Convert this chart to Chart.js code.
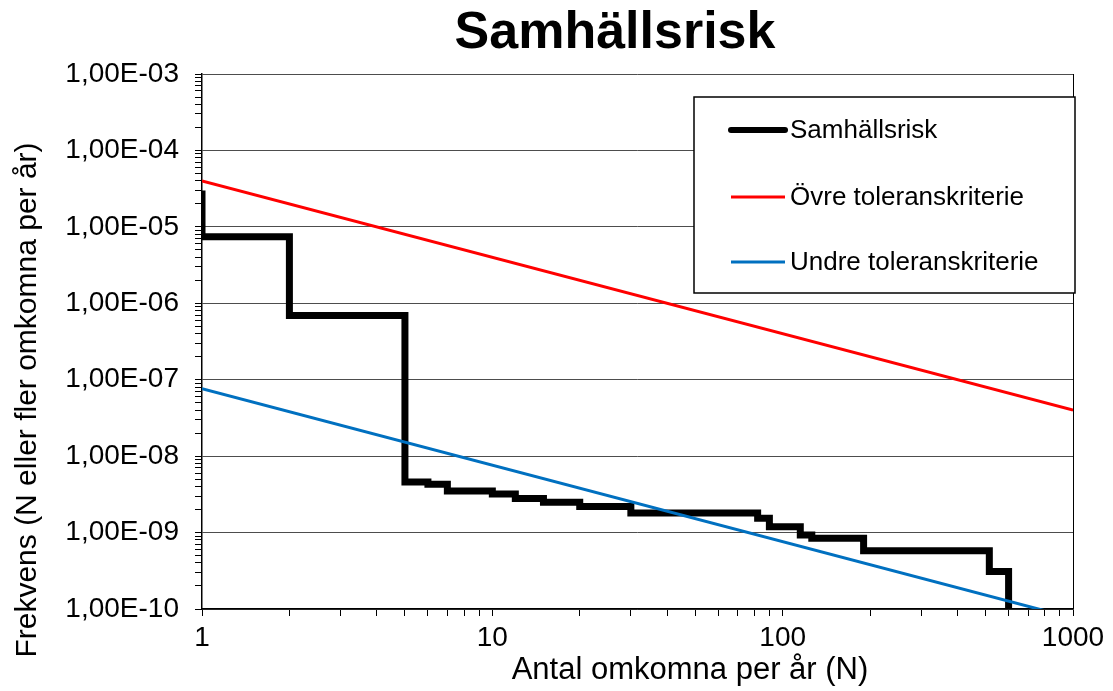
<!DOCTYPE html>
<html>
<head>
<meta charset="utf-8">
<style>
    body { margin: 0; background: #fff; }
    #wrap { width: 1113px; height: 691px; }
</style>
</head>
<body>
<div id="wrap"><canvas id="riskChart" width="1113" height="691"></canvas></div>

<script src="https://cdn.jsdelivr.net/npm/chart.js"></script>
<script>
    // Samhällsrisk (F/N-kurva)
    const riskN = [1, 1, 2, 5, 6, 7, 10, 12, 15, 20, 30, 82, 90, 115, 126, 190, 515, 600];
    const riskF = [3.0e-5, 7.4e-6, 6.9e-7, 4.6e-9, 4.3e-9, 3.5e-9, 3.2e-9, 2.8e-9, 2.5e-9, 2.2e-9,
                   1.8e-9, 1.54e-9, 1.19e-9, 9.3e-10, 8.4e-10, 5.8e-10, 3.1e-10, 1.0e-10];

    // toleranskriterier
    const critN = [1, 1000];
    const upperF = [4.0e-5, 4.0e-8];
    const lowerF = [7.6e-8, 7.6e-11];

    const seriesNames = ['Samhällsrisk', 'Övre toleranskriterie', 'Undre toleranskriterie'];

    const yDecades = [1e-10, 1e-9, 1e-8, 1e-7, 1e-6, 1e-5, 1e-4, 1e-3];
    const yTickLabels = ['1,00E-10', '1,00E-09', '1,00E-08', '1,00E-07', '1,00E-06', '1,00E-05', '1,00E-04', '1,00E-03'];
    const xDecades = [1, 10, 100, 1000];
    const xTickLabels = ['1', '10', '100', '1000'];

    const chartTitle = 'Samhällsrisk';
    const xTitle = 'Antal omkomna per år (N)';
    const yTitle = 'Frekvens (N eller fler omkomna per år)';

    function pairs(xs, ys) {
        return xs.map((x, i) => ({ x: x, y: ys[i] }));
    }

    // decade ticks plus 2..9 minor ticks in between
    function logTicks(decades) {
        const out = [];
        decades.forEach((d, i) => {
            out.push({ value: d, major: true });
            if (i < decades.length - 1) {
                for (let m = 2; m <= 9; m++) out.push({ value: m * d, major: false });
            }
        });
        return out;
    }

    function labelFor(value, decades, labels) {
        const i = decades.findIndex(d => Math.abs(d - value) / d < 1e-6);
        return i >= 0 ? labels[i] : '';
    }

    const textPlugin = {
        id: 'texts',
        afterDraw(chart) {
            const ctx = chart.ctx;
            ctx.save();
            ctx.fillStyle = '#000';
            ctx.textAlign = 'center';
            ctx.textBaseline = 'middle';

            ctx.font = 'bold 52px Arial, "Liberation Sans", sans-serif';
            ctx.fillText(chartTitle, 615, 34);

            ctx.font = '31px Arial, "Liberation Sans", sans-serif';
            ctx.fillText(xTitle, 690, 670);

            ctx.save();
            ctx.font = '30px Arial, "Liberation Sans", sans-serif';
            ctx.translate(28, 400);
            ctx.rotate(-Math.PI / 2);
            ctx.fillText(yTitle, 0, 0);
            ctx.restore();

            // legend box
            const bx = 694, by = 97, bw = 381, bh = 196;
            ctx.fillStyle = '#fff';
            ctx.fillRect(bx, by, bw, bh);
            ctx.strokeStyle = '#000';
            ctx.lineWidth = 1.5;
            ctx.strokeRect(bx, by, bw, bh);

            const rows = [130, 197, 262];
            ctx.textAlign = 'left';
            ctx.font = '26px Arial, "Liberation Sans", sans-serif';
            chart.data.datasets.forEach((ds, i) => {
                ctx.beginPath();
                ctx.strokeStyle = ds.borderColor;
                ctx.lineWidth = i === 0 ? 6 : 3;
                ctx.lineCap = i === 0 ? 'round' : 'butt';
                ctx.moveTo(731, rows[i]);
                ctx.lineTo(785, rows[i]);
                ctx.stroke();
                ctx.fillStyle = '#000';
                ctx.fillText(ds.label, 790, rows[i] + 1);
            });
            ctx.restore();
        }
    };

    Chart.defaults.font.family = 'Arial, "Liberation Sans", sans-serif';
    Chart.defaults.color = '#000';

    const ctx = document.getElementById('riskChart').getContext('2d');
    const riskChart = new Chart(ctx, {
        type: 'line',
        data: {
            datasets: [
                {
                    label: seriesNames[0],
                    data: pairs(riskN, riskF),
                    borderColor: '#000000',
                    borderWidth: 7,
                    stepped: 'before',
                    pointRadius: 0,
                    borderJoinStyle: 'miter',
                    order: 3
                },
                {
                    label: seriesNames[1],
                    data: pairs(critN, upperF),
                    borderColor: '#ff0000',
                    borderWidth: 3,
                    pointRadius: 0,
                    order: 2
                },
                {
                    label: seriesNames[2],
                    data: pairs(critN, lowerF),
                    borderColor: '#0070c0',
                    borderWidth: 3,
                    pointRadius: 0,
                    order: 1
                }
            ]
        },
        options: {
            responsive: false,
            animation: false,
            layout: { padding: { top: 74, right: 40, left: 0, bottom: 0 } },
            plugins: {
                legend: { display: false },
                title: { display: false },
                tooltip: { enabled: false }
            },
            scales: {
                x: {
                    type: 'logarithmic',
                    min: 1,
                    max: 1000,
                    afterBuildTicks: scale => { scale.ticks = logTicks(xDecades); },
                    afterFit: scale => { scale.height = 82; },
                    border: { color: '#000', width: 1.5 },
                    grid: {
                        drawOnChartArea: true,
                        color: c => (c.tick && c.tick.value === 1000) ? '#000' : 'rgba(0,0,0,0)',
                        tickColor: '#000',
                        tickLength: 7
                    },
                    ticks: {
                        autoSkip: false,
                        maxRotation: 0,
                        padding: 5,
                        font: { size: 28 },
                        callback: value => labelFor(value, xDecades, xTickLabels)
                    }
                },
                y: {
                    type: 'logarithmic',
                    min: 1e-10,
                    max: 1e-3,
                    afterBuildTicks: scale => { scale.ticks = logTicks(yDecades); },
                    afterFit: scale => { scale.width = 202; },
                    border: { color: '#000', width: 1.5 },
                    grid: {
                        color: c => (c.tick && c.tick.major) ? '#4d4d4d' : 'rgba(0,0,0,0)',
                        tickColor: '#000',
                        tickLength: 7
                    },
                    ticks: {
                        autoSkip: false,
                        padding: 16,
                        font: { size: 28 },
                        callback: value => labelFor(value, yDecades, yTickLabels)
                    }
                }
            }
        },
        plugins: [textPlugin]
    });
</script>
</body>
</html>
